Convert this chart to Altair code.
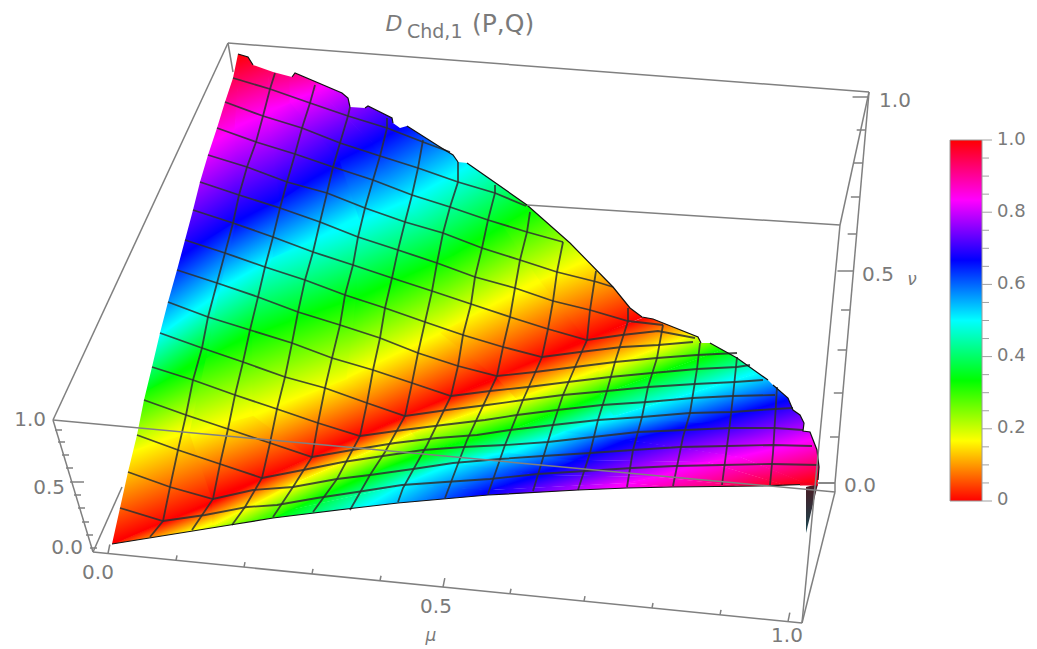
import altair as alt
import pandas as pd

# ---- colour levels of the D value (Hue scale of the reference) ----
LEVELS = [0, 1/6, 2/6, 3/6, 4/6, 5/6, 1]
HUES = ["#ff0000", "#ffff00", "#00ff00", "#00ffff", "#0000ff", "#ff00ff", "#ff0000"]

# ---- iso-value curves, one row per level ----
UPPER = [
    [(105,548),(213,500),(312,457),(405,416),(497,377),(587,339),(655,312)],
    [(125,452),(190,432),(253,415),(347,378),(440,332),(540,280),(600,255)],
    [(135,397),(207,357),(253,333),(357,298),(453,255),(503,225),(545,200)],
    [(155,340),(220,290),(273,257),(360,220),(403,203),(470,165),(485,155)],
    [(170,262),(237,220),(280,200),(340,160),(373,143),(403,127),(420,115)],
    [(200,150),(235,128),(267,112),(290,102),(317,90),(330,82),(345,75)],
    [(215,60),(240,52),(270,45),(290,45),(315,45),(330,45),(345,45)],
]
LOWER = [
    [(105,548),(213,500),(312,457),(405,416),(497,377),(587,339),(665,310)],
    [(130,552),(213,526),(297,482),(413,433),(517,398),(600,370),(710,328)],
    [(235,538),(290,510),(370,475),(430,450),(517,428),(600,395),(735,345)],
    [(345,518),(403,485),(453,463),(510,453),(565,432),(615,416),(775,368)],
    [(455,510),(490,490),(540,475),(577,460),(627,440),(707,423),(805,395)],
    [(590,500),(627,483),(657,477),(707,462),(740,457),(790,445),(830,435)],
    [(740,500),(760,495),(780,490),(795,488),(810,485),(825,482),(840,478)],
]

# ---- surface outline ----
OUT_LEFT = [(112,544),(120,508),(128,472),(137,435),(144,400),(152,367),(160,333),(168,302),(177,270),
            (185,240),(193,210),(200,182),(208,155),(217,128),(225,102),(233,78),(238,54)]
OUT_TOP_A = [(238,54),(248,57),(253,65)]
OUT_TOP_GAP1 = [(253,65),(273,72),(292,77)]
OUT_TOP_B = [(292,77),(295,73),(342,93),(348,98),(350,107)]
OUT_TOP_GAP2 = [(350,107),(365,108)]
OUT_TOP_C = [(365,108),(368,106),(392,118),(393,123)]
OUT_TOP_GAP3 = [(393,123),(400,128),(407,126)]
OUT_TOP_D = [(407,126),(440,147),(453,155),(458,162)]
OUT_TOP_GAP4 = [(458,162),(467,163)]
OUT_TOP_E = [(467,163),(527,205),(570,243),(613,287),(630,308),(642,317),(653,319),(698,337),(701,343)]
OUT_TOP_GAP5 = [(701,343),(710,343)]
OUT_TOP_F = [(710,343),(737,358),(768,380)]
OUT_TOP_GAP6 = [(768,380),(773,385)]
OUT_TOP_G = [(773,385),(788,398),(793,410),(800,415),(804,423),(803,431),(810,432),(817,450),(819,467),(818,480)]
OUT_BOTTOM = [(818,484),(760,486),(673,487),(627,488),(578,490),(488,495),(443,499),(398,503),(355,508),(273,518),(230,525),(112,544)]
SPIKE = [(806,487),(818,484),(806,533)]

# ---- mesh lines ----
MESH_ROWS = [
    [(233,78),(270,89),(310,103),(348,116),(387,128),(423,142),(450,152)],
    [(225,102),(263,116),(302,128),(340,143),(380,156),(418,168),(458,182),(495,193),(526,206)],
    [(217,128),(256,142),(295,154),(333,167),(373,180),(412,195),(450,207),(488,220),(527,232),(563,242)],
    [(208,155),(247,167),(287,182),(327,193),(365,208),(405,222),(443,233),(482,248),(520,260),(557,272),(597,282),(613,287)],
    [(200,182),(239,195),(280,208),(320,222),(358,237),(398,250),(437,263),(475,277),(515,288),(553,301),(590,310),(628,321),(663,325)],
    [(193,210),(233,223),(273,237),(313,252),(353,265),(392,278),(432,291),(471,304),(510,317),(548,329),(587,340),(622,335),(658,331),(695,338)],
    [(185,240),(225,253),(265,267),(305,280),(345,295),(385,308),(425,322),(463,335),(503,347),(542,357),(580,352),(622,347),(658,345),(693,342)],
    [(177,270),(217,283),(258,297),(298,312),(340,325),(380,338),(418,353),(458,366),(497,376),(535,372),(575,367),(615,362),(657,358),(697,355),(737,353)],
    [(168,302),(208,317),(250,330),(292,343),(332,358),(373,370),(412,383),(451,396),(490,391),(528,387),(568,382),(610,377),(652,373),(697,369),(737,367),(750,365)],
    [(160,333),(202,348),(243,362),(285,377),(325,388),(367,403),(405,416),(447,410),(487,405),(523,400),(563,395),(607,391),(648,387),(695,384),(735,382),(763,380)],
    [(152,367),(193,380),(235,395),(277,409),(318,423),(360,436),(403,430),(443,425),(485,420),(517,415),(557,410),(602,405),(647,402),(693,398),(733,396),(775,395)],
    [(144,400),(186,415),(228,429),(270,443),(312,457),(352,450),(395,443),(437,438),(477,435),(510,430),(553,425),(598,420),(642,417),(690,413),(732,412),(775,409),(793,408)],
    [(137,435),(178,450),(220,464),(262,478),(303,470),(343,462),(383,456),(423,450),(463,447),(505,445),(548,442),(593,437),(638,432),(685,430),(730,428),(775,428),(803,430)],
    [(128,472),(170,487),(213,499),(253,490),(293,487),(337,479),(370,475),(413,469),(453,463),(500,459),(543,456),(590,453),(633,450),(680,447),(727,446),(773,445),(812,446)],
    [(120,508),(163,521),(205,515),(247,507),(277,505),(317,498),(357,492),(402,485),(445,482),(490,479),(538,474),(585,471),(632,468),(675,466),(723,465),(772,464),(818,465)],
]
MESH_COLS = [
    [(275,73),(270,89),(263,116),(256,142),(247,167),(239,195),(233,223),(225,253),(217,283),(208,317),(202,348),(193,380),(186,415),(178,450),(170,487),(163,521),(150,537)],
    [(315,85),(310,103),(302,128),(295,154),(287,182),(280,208),(273,237),(265,267),(258,297),(250,330),(243,362),(235,395),(228,429),(220,464),(213,499),(192,530)],
    [(350,107),(348,116),(340,143),(333,167),(327,193),(320,222),(313,252),(305,280),(298,312),(292,343),(285,377),(277,409),(270,443),(262,478),(245,507),(232,525)],
    [(387,118),(387,128),(380,156),(373,180),(365,208),(358,237),(353,265),(345,295),(340,325),(332,358),(325,388),(318,423),(312,457),(293,487),(273,517)],
    [(423,140),(418,168),(412,195),(405,222),(398,250),(392,278),(385,308),(380,338),(373,370),(367,403),(360,436),(337,479),(313,512)],
    [(458,162),(458,182),(450,207),(443,233),(437,263),(432,291),(425,322),(418,353),(412,383),(405,416),(385,452),(370,475),(350,510)],
    [(495,185),(495,193),(488,220),(482,248),(475,277),(471,304),(463,335),(458,366),(451,396),(427,445),(403,488),(398,502)],
    [(530,212),(527,232),(520,260),(515,288),(510,317),(503,347),(497,376),(467,440),(445,498)],
    [(563,242),(557,272),(553,301),(548,329),(542,357),(523,400),(505,445),(488,494)],
    [(596,271),(590,310),(587,340),(575,367),(563,395),(553,425),(543,458),(533,491)],
    [(628,308),(628,321),(615,362),(607,391),(598,420),(590,453),(578,490)],
    [(663,325),(657,358),(648,387),(642,417),(633,450),(627,487)],
    [(700,343),(697,369),(690,413),(683,437),(673,486)],
    [(737,357),(733,396),(730,423),(722,485)],
    [(777,387),(773,453),(770,485)],
]

# ---- bounding box edges ----
BOX_EDGES = [
    [(53,420),(228,43)], [(228,43),(869,92)], [(53,420),(835,492)],
    [(93,552),(802,623)], [(93,552),(53,420)],
    [(835,483),(869,92)], [(835,483),(835,492)], [(835,492),(802,623)],
    [(817,483),(835,483)],
    [(840,225),(869,92)], [(840,225),(802,623)], [(527,205),(840,225)],
    [(228,43),(233,72)], [(93,552),(122,487)],
]
Z_TICKS = [(90,548),(86,535),(82,522),(78,508),(74,495),(70,482),(66,468),(62,455),(58,442),(55,430)]
Z_TICK_LEN = [7,7,7,7,7,14,7,7,7,7]
MU_TICK_X = [108,176,244,312,380,443,510,584,652,720,788]
NU_TICK_Y = [483,437,393,350,310,271,234,197,163,130,97]

AXIS_LABELS = [
    ("0.0",83,548,"right"),("0.5",65,488,"right"),("1.0",46,420,"right"),
    ("0.0",98,573,"center"),("0.5",436,607,"center"),("1.0",787,636,"center"),
    ("1.0",895,101,"center"),("0.5",878,275,"center"),("0.0",860,486,"center"),
]
BAR_LABELS = [("1.0",140),("0.8",212),("0.6",284),("0.4",356),("0.2",428),("0",500)]
BAR_TOP, BAR_BOTTOM, BAR_LEFT, BAR_RIGHT = 140, 501, 950, 982

W, H = 1021, 640
X = alt.X("x:Q", scale=alt.Scale(domain=[8, 8 + W], nice=False, zero=False), axis=None)
Y = alt.Y("y:Q", scale=alt.Scale(domain=[8 + H, 8], nice=False, zero=False), axis=None)
PROJ = dict(type="identity", scale=1, translate=[-8, -8])


def shape(rings, **mark):
    feat = {"type": "Feature", "properties": {},
            "geometry": {"type": "Polygon", "coordinates": [[list(p) for p in r] for r in rings]}}
    return alt.Chart(alt.InlineData(values=[feat], format=alt.DataFormat(type="json"))).mark_geoshape(
        strokeWidth=0, **mark).project(**PROJ)


def quad_fill(a, b, c, d, col0, col1, poly):
    """Linear gradient from segment a-b to segment c-d, in the polygon's bounding-box units."""
    xs = [p[0] for p in poly]; ys = [p[1] for p in poly]
    x0, y0 = min(xs), min(ys)
    w, h = max(xs) - x0, max(ys) - y0
    u = lambda p: ((p[0] - x0) / w, (p[1] - y0) / h)
    ua, ub, uc, ud = u(a), u(b), u(c), u(d)
    dx = (ub[0] + ud[0] - ua[0] - uc[0]) / 2
    dy = (ub[1] + ud[1] - ua[1] - uc[1]) / 2
    nx, ny = -dy, dx
    m1 = ((ua[0] + ub[0]) / 2, (ua[1] + ub[1]) / 2)
    m2 = ((uc[0] + ud[0]) / 2, (uc[1] + ud[1]) / 2)
    k = ((m2[0] - m1[0]) * nx + (m2[1] - m1[1]) * ny) / (nx * nx + ny * ny)
    return {"gradient": "linear", "x1": round(m1[0], 4), "y1": round(m1[1], 4),
            "x2": round(m1[0] + k * nx, 4), "y2": round(m1[1] + k * ny, 4),
            "stops": [{"offset": 0, "color": col0}, {"offset": 1, "color": col1}]}


def grow(poly, by=1.0):
    cx = sum(p[0] for p in poly) / len(poly); cy = sum(p[1] for p in poly) / len(poly)
    out = []
    for x, y in poly:
        r = ((x - cx) ** 2 + (y - cy) ** 2) ** 0.5 or 1
        out.append((round(x + (x - cx) / r * by, 2), round(y + (y - cy) / r * by, 2)))
    return out


band_layers = []
for table in (UPPER, LOWER):
    for i in range(len(table) - 1):
        for j in range(len(table[i]) - 1):
            a, b, c, d = table[i][j], table[i][j + 1], table[i + 1][j], table[i + 1][j + 1]
            poly = grow([a, b, d, c])
            band_layers.append(shape([poly + poly[:1]],
                                     fill=quad_fill(a, b, c, d, HUES[i], HUES[i + 1], poly)))

outline = (OUT_LEFT + OUT_TOP_A[1:] + OUT_TOP_GAP1[1:] + OUT_TOP_B[1:] + OUT_TOP_GAP2[1:] + OUT_TOP_C[1:]
           + OUT_TOP_GAP3[1:] + OUT_TOP_D[1:] + OUT_TOP_GAP4[1:] + OUT_TOP_E[1:] + OUT_TOP_GAP5[1:]
           + OUT_TOP_F[1:] + OUT_TOP_GAP6[1:] + OUT_TOP_G[1:] + OUT_BOTTOM)
frame = [(8, 8), (8, 8 + H), (8 + W, 8 + H), (8 + W, 8), (8, 8)]
mask = shape([frame, outline], fill="#ffffff")
spike = shape([SPIKE + SPIKE[:1]], fill={
    "gradient": "linear", "x1": 0.5, "y1": 0, "x2": 0.5, "y2": 1,
    "stops": [{"offset": 0, "color": "#4a1a22"}, {"offset": 1, "color": "#184650"}]})


def polylines(lines):
    rows = []
    for g, line in enumerate(lines):
        for i, (x, y) in enumerate(line):
            rows.append({"g": g, "i": i, "x": x, "y": y})
    return pd.DataFrame(rows)


def draw(lines, **mark):
    return alt.Chart(polylines(lines)).mark_line(**mark).encode(x=X, y=Y, detail="g:N", order="i:Q")


mesh = draw(MESH_ROWS + MESH_COLS, color="#2e3030", strokeWidth=1.8, opacity=0.85)
edge = draw([OUT_TOP_A, OUT_TOP_B, OUT_TOP_C, OUT_TOP_D, OUT_TOP_E, OUT_TOP_F, OUT_TOP_G, OUT_BOTTOM],
            color="#111111", strokeWidth=1.2)
cap = draw([[(800, 484), (818, 484)]], color="#f00020", strokeWidth=3)

ticks = []
for (x, y), n in zip(Z_TICKS, Z_TICK_LEN):
    ticks.append([(x, y), (x + n, y)])
for k, x in enumerate(MU_TICK_X):
    y = 552 + (x - 93) * 71 / 709
    n = 9 if k % 5 == 0 else 5
    ticks.append([(x, y), (x + n * 0.2, y - n)])
for k, y in enumerate(NU_TICK_Y):
    x = 835 + (483 - y) * 34 / 391
    n = 16 if k % 5 == 0 else 9
    ticks.append([(x, y), (x - n, y)])
box = draw(BOX_EDGES + ticks, color="#808080", strokeWidth=1.5)

bar = alt.Chart(pd.DataFrame([{"x": BAR_LEFT, "x2": BAR_RIGHT, "y": BAR_TOP, "y2": BAR_BOTTOM}])).mark_rect(
    stroke="#9a9a9a", strokeWidth=1,
    fill={"gradient": "linear", "x1": 0, "y1": 1, "x2": 0, "y2": 0,
          "stops": [{"offset": o, "color": c} for o, c in zip(LEVELS, HUES)]}
).encode(x=X, x2="x2:Q", y=Y, y2="y2:Q")
bar_ticks = draw([[(BAR_RIGHT, BAR_TOP + (BAR_BOTTOM - BAR_TOP) * k / 20),
                   (BAR_RIGHT + (10 if k % 4 == 0 else 7), BAR_TOP + (BAR_BOTTOM - BAR_TOP) * k / 20)]
                  for k in range(21)], color="#a0a0a0", strokeWidth=1)


def text(rows, font="DejaVu Sans", size=20, **mark):
    df = pd.DataFrame(rows, columns=["t", "x", "y", "a"])
    out = []
    for a, part in df.groupby("a"):
        out.append(alt.Chart(part).mark_text(font=font, fontSize=size, color="#7a7a7a",
                                             align=a, baseline="middle", **mark)
                   .encode(x=X, y=Y, text="t:N"))
    return out


labels = text(AXIS_LABELS)
labels += text([(t, 997, y, "left") for t, y in BAR_LABELS], size=18)
labels += text([("μ", 431, 636, "center"), ("ν", 912, 280, "center")], size=17, fontStyle="italic")
labels += text([("D", 394, 24, "center")], size=22, fontStyle="italic")
labels += text([("Chd,1", 407, 32, "left")], size=19)
labels += text([("(P,Q)", 472, 24, "left")], size=25)

chart = alt.layer(
    *band_layers, mask, mesh, edge, spike, cap, box, bar, bar_ticks, *labels
).properties(width=W, height=H, padding=0, autosize=alt.AutoSizeParams(type="none"), background="#ffffff"
).configure_view(stroke=None)

chart.save("out.html", embed_options={"renderer": "svg", "actions": False})
